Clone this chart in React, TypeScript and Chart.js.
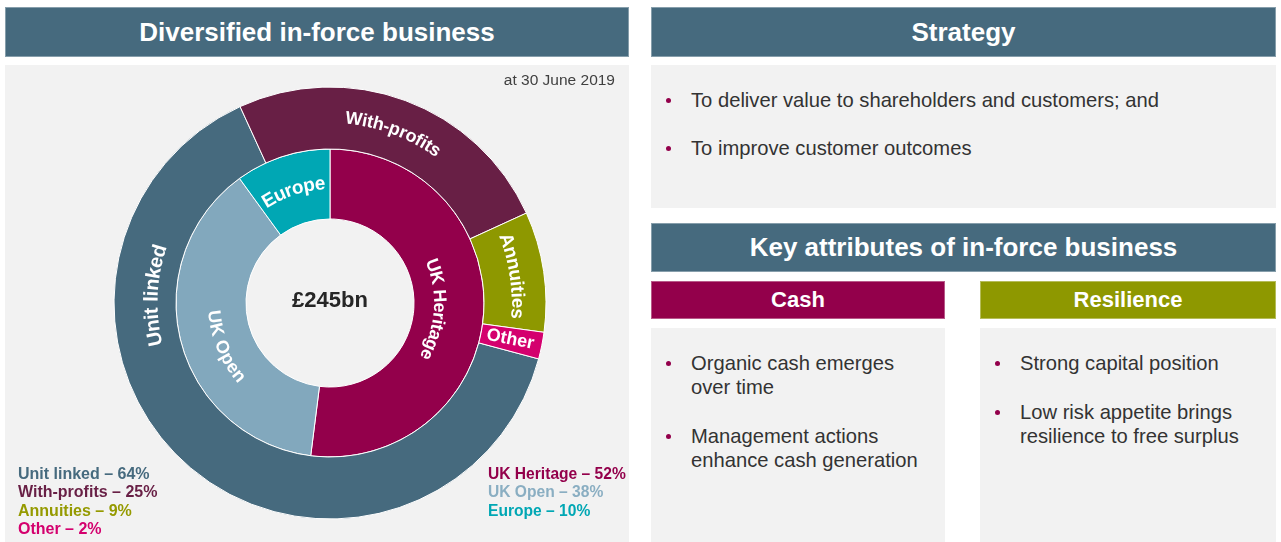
import React, { useEffect, useRef } from "react";
import { Chart, registerables } from "chart.js";

Chart.register(...registerables);

// ---------- data ----------
const outerLabels = ["Unit linked", "With-profits", "Annuities", "Other"];
const outerValues = [64, 25, 9, 2];
const innerLabels = ["UK Heritage", "UK Open", "Europe"];
const innerValues = [52, 38, 10];
const totalLabel = "£245bn";
const dateLabel = "at 30 June 2019";

const strategyItems = [
  ["To deliver value to shareholders and customers; and"],
  ["To improve customer outcomes"],
];
const cashItems = [
  ["Organic cash emerges", "over time"],
  ["Management actions", "enhance cash generation"],
];
const resilienceItems = [
  ["Strong capital position"],
  ["Low risk appetite brings", "resilience to free surplus"],
];

// ---------- styles ----------
const FONT = '"Liberation Sans", Arial, Helvetica, sans-serif';
const HEADER = "#466A7E";
const PANEL = "#F2F2F2";
const outerColors = ["#466A7E", "#681F45", "#8E9800", "#D4006E"];
const innerColors = ["#93004B", "#82A8BD", "#00A7B4"];
const legendOuterColors = ["#466A7E", "#681F45", "#959A00", "#D4006E"];
const legendInnerColors = ["#93004B", "#8AAEC2", "#00A7B4"];

type Placement = { mode: "cw" | "ccw" | "radial"; r: number; angle?: number; size: number };
const outerPlacement: Placement[] = [
  { mode: "cw", r: 178, angle: 272.5, size: 20 },
  { mode: "cw", r: 185, size: 18 },
  { mode: "cw", r: 187, size: 19 },
  { mode: "radial", r: 184, size: 18 },
];
const innerPlacement: Placement[] = [
  { mode: "cw", r: 109, size: 18 },
  { mode: "ccw", r: 117, angle: 247.5, size: 18 },
  { mode: "cw", r: 119, size: 19 },
];

const ringLabelPlugin = {
  id: "ringLabels",
  afterDatasetsDraw(chart: any) {
    const ctx: CanvasRenderingContext2D = chart.ctx;
    const groups = [outerPlacement, innerPlacement];
    const names = [outerLabels, innerLabels];
    let cx = 0;
    let cy = 0;
    chart.data.datasets.forEach((_ds: any, di: number) => {
      const meta = chart.getDatasetMeta(di);
      meta.data.forEach((arc: any, i: number) => {
        const p = groups[di][i];
        const { x, y, startAngle, endAngle } = arc.getProps(["x", "y", "startAngle", "endAngle"], true);
        cx = x;
        cy = y;
        const mid = p.angle !== undefined ? ((p.angle - 90) * Math.PI) / 180 : (startAngle + endAngle) / 2;
        const text = names[di][i];
        ctx.save();
        ctx.font = `bold ${p.size}px ${FONT}`;
        ctx.fillStyle = "#ffffff";
        ctx.textAlign = "center";
        ctx.textBaseline = "middle";
        if (p.mode === "radial") {
          ctx.translate(x + p.r * Math.cos(mid), y + p.r * Math.sin(mid));
          ctx.rotate(mid);
          ctx.fillText(text, 0, 0);
        } else {
          const chars = Array.from(text);
          const widths = chars.map((c) => ctx.measureText(c).width);
          const total = widths.reduce((a, b) => a + b, 0);
          const dir = p.mode === "cw" ? 1 : -1;
          let a = mid - (dir * total) / p.r / 2;
          chars.forEach((ch, k) => {
            const w = widths[k];
            const phi = a + (dir * w) / 2 / p.r;
            ctx.save();
            ctx.translate(x + p.r * Math.cos(phi), y + p.r * Math.sin(phi));
            ctx.rotate(phi + (dir * Math.PI) / 2);
            ctx.fillText(ch, 0, 0);
            ctx.restore();
            a += (dir * w) / p.r;
          });
        }
        ctx.restore();
      });
    });
    ctx.save();
    ctx.font = `bold 22px ${FONT}`;
    ctx.fillStyle = "#262626";
    ctx.textAlign = "center";
    ctx.textBaseline = "middle";
    ctx.fillText(totalLabel, cx, cy - 2);
    ctx.restore();
  },
};

function Header({ left, top, width, height, bg, size, text }: any) {
  return (
    <div
      style={{
        position: "absolute",
        left,
        top,
        width,
        height,
        background: bg,
        color: "#fff",
        fontWeight: "bold",
        fontSize: size,
        display: "flex",
        alignItems: "center",
        justifyContent: "center",
        boxSizing: "border-box",
        border: "1px solid rgba(255,255,255,0.35)",
      }}
    >
      {text}
    </div>
  );
}

function Panel({ left, top, width, height }: any) {
  return <div style={{ position: "absolute", left, top, width, height, background: PANEL }} />;
}

function Bullets({ left, top, items, gap }: { left: number; top: number; items: string[][]; gap: number }) {
  const out: any[] = [];
  let y = top;
  items.forEach((para, pi) => {
    out.push(
      <div
        key={"d" + pi}
        style={{
          position: "absolute",
          left: left - 25.5,
          top: y - 2.5,
          width: 5,
          height: 5,
          borderRadius: "50%",
          background: "#93004B",
        }}
      />
    );
    para.forEach((line, li) => {
      out.push(
        <div
          key={"l" + pi + "-" + li}
          style={{
            position: "absolute",
            left,
            top: y - 12,
            height: 24,
            lineHeight: "24px",
            fontSize: 20.2,
            color: "#333333",
            whiteSpace: "nowrap",
          }}
        >
          {line}
        </div>
      );
      y += 24;
    });
    y += gap;
  });
  return <>{out}</>;
}

export default function App() {
  const canvasRef = useRef<HTMLCanvasElement | null>(null);

  useEffect(() => {
    const canvas = canvasRef.current;
    if (!canvas) return;
    const chart = new Chart(canvas, {
      type: "doughnut",
      data: {
        labels: outerLabels,
        datasets: [
          {
            data: outerValues,
            backgroundColor: outerColors,
            borderColor: "#ffffff",
            borderWidth: 1,
            weight: 62,
            rotation: 105,
          } as any,
          {
            data: innerValues,
            backgroundColor: innerColors,
            borderColor: "#ffffff",
            borderWidth: 1,
            weight: 70,
            rotation: 0,
          } as any,
        ],
      },
      options: {
        responsive: false,
        animation: false,
        devicePixelRatio: 1,
        events: [],
        radius: 216,
        cutout: "38.9%",
        layout: { padding: { left: 109, right: 83, top: 21, bottom: 23 } },
        plugins: {
          legend: { display: false },
          tooltip: { enabled: false },
        },
      } as any,
      plugins: [ringLabelPlugin as any],
    });
    return () => chart.destroy();
  }, []);

  const legendLine = (text: string, color: string) => (
    <div key={text} style={{ color, height: 18.5, lineHeight: "18.5px", whiteSpace: "nowrap" }}>
      {text}
    </div>
  );

  return (
    <div
      style={{
        position: "absolute",
        left: 0,
        top: 0,
        width: 1281,
        height: 542,
        background: "#ffffff",
        fontFamily: FONT,
        overflow: "hidden",
      }}
    >
      {/* Left side */}
      <Header left={5} top={7} width={624} height={50} bg={HEADER} size={26} text="Diversified in-force business" />
      <Panel left={5} top={65} width={624} height={477} />
      <canvas
        ref={canvasRef}
        width={624}
        height={476}
        style={{ position: "absolute", left: 5, top: 66, width: 624, height: 476 }}
      />
      <div
        style={{
          position: "absolute",
          right: 1281 - 615,
          top: 71,
          fontSize: 15.5,
          lineHeight: "18px",
          color: "#404040",
          whiteSpace: "nowrap",
        }}
      >
        {dateLabel}
      </div>
      <div style={{ position: "absolute", left: 18, top: 464.5, fontSize: 16, fontWeight: "bold" }}>
        {outerLabels.map((l, i) => legendLine(`${l} – ${outerValues[i]}%`, legendOuterColors[i]))}
      </div>
      <div style={{ position: "absolute", left: 488, top: 464.5, fontSize: 15.6, fontWeight: "bold" }}>
        {innerLabels.map((l, i) => legendLine(`${l} – ${innerValues[i]}%`, legendInnerColors[i]))}
      </div>

      {/* Right side */}
      <Header left={651} top={7} width={625} height={50} bg={HEADER} size={26} text="Strategy" />
      <Panel left={651} top={65} width={625} height={143} />
      <Bullets left={691} top={100} items={strategyItems} gap={24} />

      <Header left={651} top={223} width={625} height={49} bg={HEADER} size={26} text="Key attributes of in-force business" />
      <Header left={651} top={281} width={294} height={38} bg="#93004B" size={22} text="Cash" />
      <Header left={980} top={281} width={296} height={38} bg="#8E9800" size={22} text="Resilience" />
      <Panel left={651} top={328} width={294} height={214} />
      <Panel left={980} top={328} width={296} height={214} />
      <Bullets left={691} top={363} items={cashItems} gap={25} />
      <Bullets left={1020} top={363} items={resilienceItems} gap={25} />
    </div>
  );
}
